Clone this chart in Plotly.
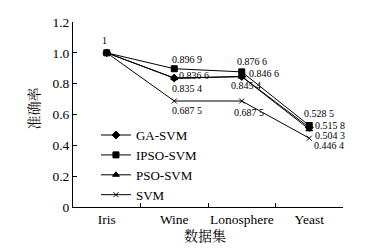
import plotly.graph_objects as go

categories = ["Iris", "Wine", "Lonosphere", "Yeast"]
ga_svm = [1.0, 0.8366, 0.8466, 0.5158]
ipso_svm = [1.0, 0.8969, 0.8766, 0.5285]
pso_svm = [1.0, 0.8354, 0.8454, 0.5043]
svm = [1.0, 0.6875, 0.6875, 0.4464]
y_ticks = [0, 0.2, 0.4, 0.6, 0.8, 1.0, 1.2]
y_ticktext = ["0", "0.2", "0.4", "0.6", "0.8", "1.0", "1.2"]

def fmt(v):
    s = f"{v:.4f}"
    return s[:5] + " " + s[5:]

series = [
    ("GA-SVM", ga_svm, "diamond"),
    ("IPSO-SVM", ipso_svm, "square"),
    ("PSO-SVM", pso_svm, "triangle-up"),
    ("SVM", svm, "x-thin"),
]

fig = go.Figure()
for name, vals, sym in series:
    fig.add_trace(go.Scatter(
        x=categories, y=vals, name=name, mode="lines+markers",
        line=dict(color="black", width=1),
        marker=dict(symbol=sym, size=6 if sym != "x-thin" else 5, color="black",
                    line=dict(color="black", width=1)),
    ))

# label offsets (pixels) per series for Wine, Lonosphere, Yeast
offsets = {
    "GA-SVM": [(4, 3), (6, 3), (5, 2)],
    "IPSO-SVM": [(-3, 9), (-6, 10), (-6, 12)],
    "PSO-SVM": [(-3, -10), (-12, -9), (5, -6)],
    "SVM": [(-3, -9), (-9, -11), (4, -7)],
}
serif = "Liberation Serif, Times New Roman, serif"
cjk = "Noto Serif CJK SC, Noto Sans CJK SC, sans-serif"
font_lab = dict(family=serif, size=10, color="black")
annotations = []
for name, vals, sym in series:
    for k, i in enumerate([1, 2, 3]):
        dx, dy = offsets[name][k]
        annotations.append(dict(x=categories[i], y=vals[i], text=fmt(vals[i]),
                                xref="x", yref="y", showarrow=False,
                                xanchor="left", yanchor="middle", borderpad=0,
                                xshift=dx, yshift=dy, font=font_lab))
annotations.append(dict(x=categories[0], y=ipso_svm[0], text="1", xref="x", yref="y",
                        showarrow=False, xshift=-2, yshift=12, font=font_lab))
# axis titles
annotations.append(dict(x=0.5, y=0, xref="paper", yref="paper", text="数据集",
                        showarrow=False, yanchor="middle", xshift=-3, yshift=-28,
                        font=dict(family=cjk, size=14, color="black")))
annotations.append(dict(x=0, y=0.5, xref="paper", yref="paper", text="准确率",
                        showarrow=False, textangle=-90, xanchor="center",
                        yanchor="middle", xshift=-41, yshift=6,
                        font=dict(family=cjk, size=14, color="black")))

# page has an 8px body margin: compensate so plot area sits at x 73-343, y 22-207
fig.update_layout(
    width=382, height=251,
    margin=dict(l=65, r=47, t=14, b=52),
    paper_bgcolor="white", plot_bgcolor="white",
    font=dict(family=serif, size=13, color="black"),
    showlegend=True,
    legend=dict(x=0.085, y=0.47, xanchor="left", yanchor="top",
                bgcolor="rgba(0,0,0,0)", font=dict(family=serif, size=13),
                itemwidth=30, tracegroupgap=0),
    annotations=annotations,
    xaxis=dict(showline=True, linecolor="black", linewidth=1, ticks="inside",
               ticklen=4, tickcolor="black", tickson="boundaries", tickangle=0,
               range=[-0.5, 3.5], showgrid=False, zeroline=False, automargin=False,
               tickfont=dict(family=serif, size=13.5)),
    yaxis=dict(showline=True, linecolor="black", linewidth=1, ticks="inside",
               ticklen=4, tickcolor="black", range=[0, 1.2], automargin=False,
               tickvals=y_ticks, ticktext=y_ticktext, showgrid=False, zeroline=False,
               tickfont=dict(family=serif, size=13.5)),
)
fig.write_html("out.html")
